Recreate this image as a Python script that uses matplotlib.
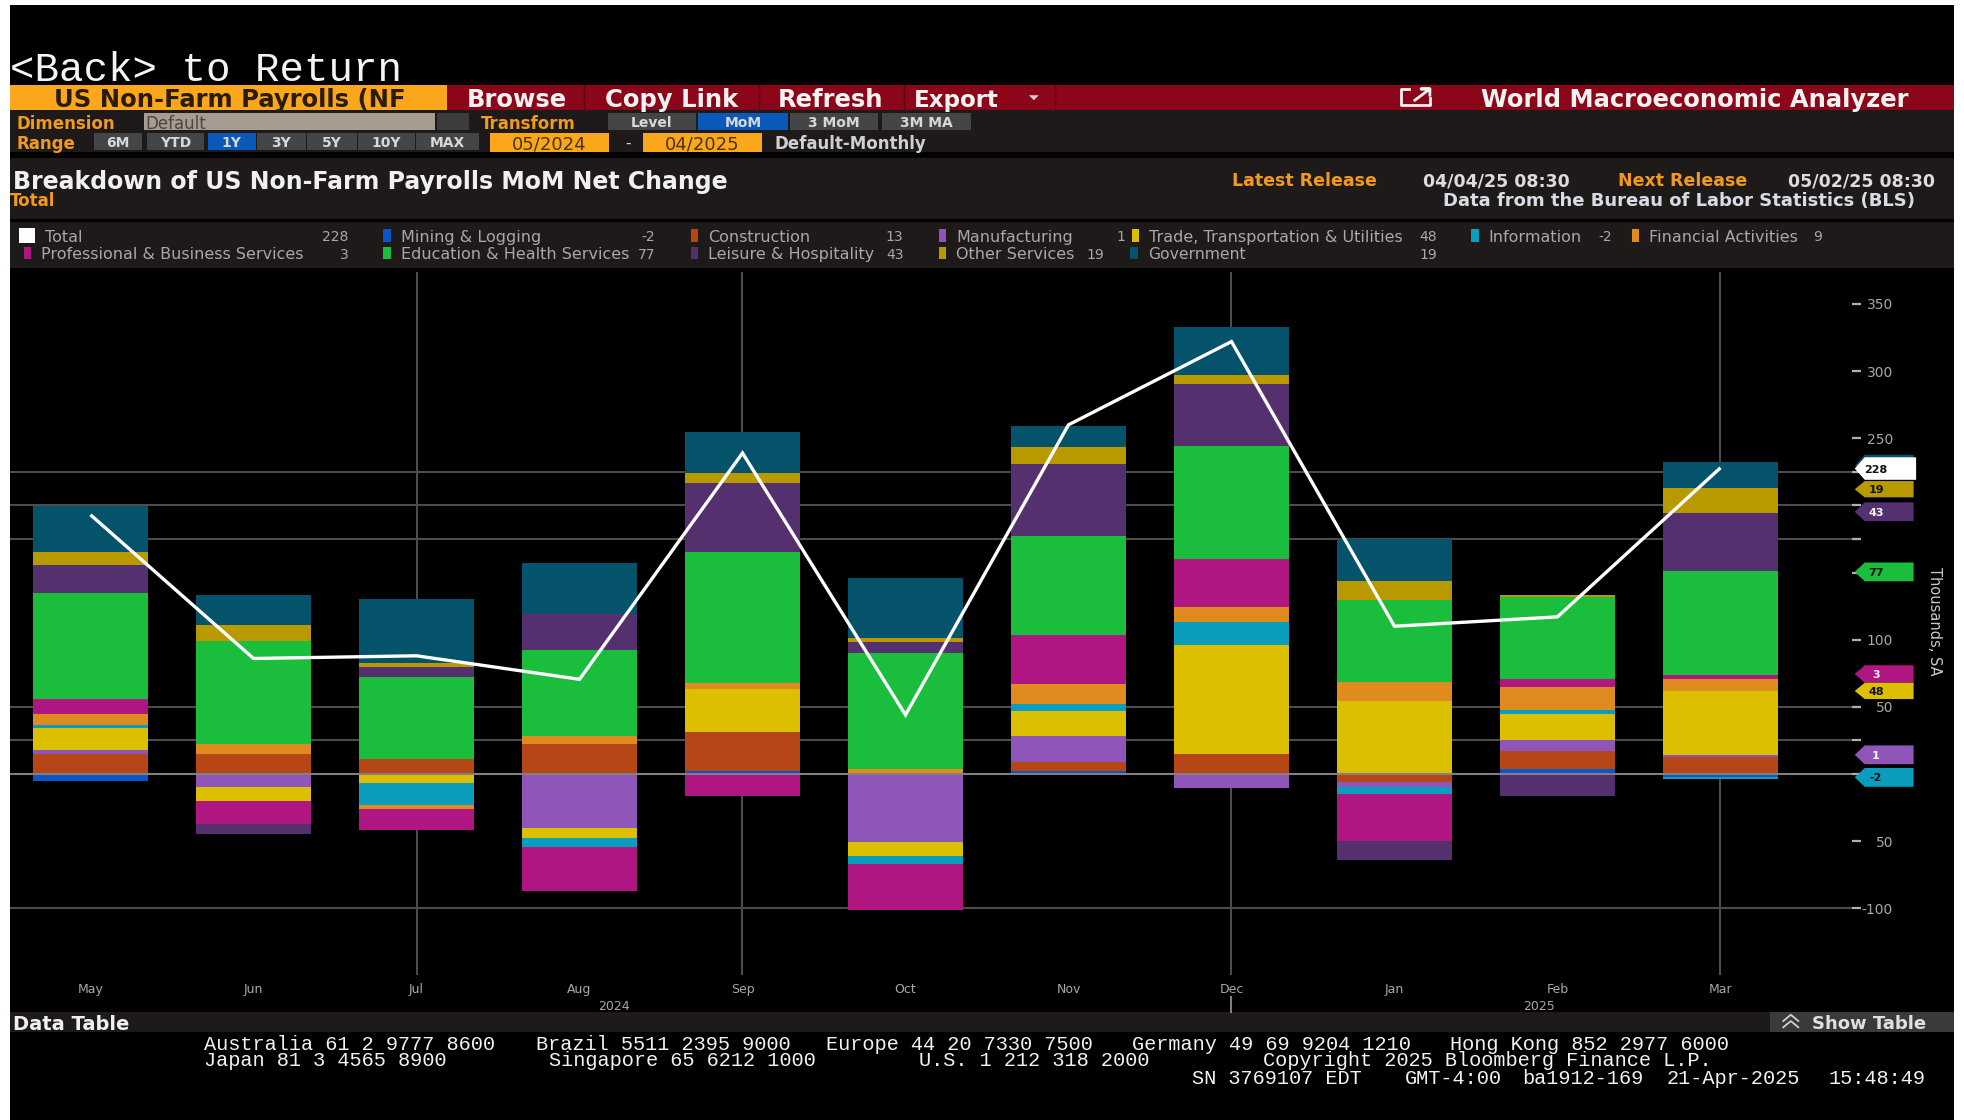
import matplotlib
matplotlib.use("Agg")
import matplotlib.pyplot as plt
from matplotlib.patches import Rectangle, Polygon
from matplotlib.textpath import TextPath
from matplotlib.font_manager import FontProperties
import numpy as np

months = ["May", "Jun", "Jul", "Aug", "Sep", "Oct", "Nov", "Dec", "Jan", "Feb", "Mar"]
mining = [-5, 0, 0, 0, 2, 0, 2, 0, 1, 4, -2]
construction = [15, 15, 11, 22, 29, 0, 7, 15, -6, 13, 13]
manufacturing = [2.5, -10, 0, -40, 0, -51, 19, -10.5, -4, 8, 1]
trade = [17, -10, -7, -8, 32, -10, 19, 81, 53.5, 20, 48]
information = [2, 0, -16, -6.5, 0, -6, 5, 17, -5, 2.5, -2]
financial = [8, 7, -3, 6, 4.5, 4, 15, 11, 14, 17, 9]
professional = [11, -17, -16, -33, -16.5, -34.5, 36.5, 36, -35, 6, 3]
education = [79, 77, 61, 64.5, 98, 86, 74, 84, 61, 61, 77]
leisure = [21, -7.5, 8, 26.5, 51, 8.5, 53, 46.5, -14, -16.5, 43]
other = [10, 12, 2.5, 0, 7.5, 2.5, 13, 6.5, 14.5, 1.5, 19]
government = [34, 22, 48, 38, 31, 45, 15.5, 36, 31, 0, 19]
total = [193, 86, 88, 70.5, 239, 44, 260, 322, 110, 117, 228]

series_names = ["Mining & Logging", "Construction", "Manufacturing",
                "Trade, Transportation & Utilities", "Information", "Financial Activities",
                "Professional & Business Services", "Education & Health Services",
                "Leisure & Hospitality", "Other Services", "Government"]
series_colors = ["#0a55c8", "#b74616", "#8f55b8", "#dcbf00", "#0a9dbd", "#e08b20",
                 "#b01682", "#1bbd3c", "#55306e", "#b89a00", "#04536a"]
series_values = [mining, construction, manufacturing, trade, information, financial,
                 professional, education, leisure, other, government]
latest = [-2, 13, 1, 48, -2, 9, 3, 77, 43, 19, 19]
latest_total = 228

tick_vals = [-100, -50, 0, 25, 50, 100, 150, 175, 200, 225, 250, 300, 350]
tick_text = ["-100", "50", "", "", "50", "100", "", "", "", "", "250", "300", "350"]
grid_vals = [-100, 0, 25, 50, 175, 200, 225]

W, H = 1965, 1120
fig = plt.figure(figsize=(W / 100, H / 100), dpi=100, facecolor="white")

# screen furniture, in 1568x894 layout units
ui = fig.add_axes([0, 0, 1, 1], zorder=0)
ui.axis("off")
over = fig.add_axes([0, 0, 1, 1], zorder=5)
over.axis("off")
over.patch.set_alpha(0)
for a in (ui, over):
    a.set_xlim(0, 1568)
    a.set_ylim(894, 0)

SANS = "DejaVu Sans"
MONO = "Liberation Mono"
SC = W / 1568


def box(x0, x1, y0, y1, c, ax=ui, z=1):
    ax.add_patch(Rectangle((x0, y0), x1 - x0, y1 - y0, fc=c, ec="none", zorder=z))


def T(x0, x1, y, s, c, weight="normal", family=SANS, ax=ui, maxsize=None, center=False):
    fp = FontProperties(family=family, weight=weight, size=10)
    w = TextPath((0, 0), s, prop=fp).get_extents().width * 100 / 72
    size = 10 * (x1 - x0) * SC / w
    if maxsize:
        size = min(size, maxsize)
    ax.text((x0 + x1) / 2 if center else x0, y, s, color=c, fontsize=size, fontweight=weight,
            family=family, ha="center" if center else "left", va="center_baseline", zorder=3)


def M(x0, y, s):
    ui.text(x0, y, s, color="#f2f2f2", fontsize=14.6, family=MONO, ha="left",
            va="center_baseline", zorder=3)


box(8, 1559, 4, 894, "#000000", z=0)
PANEL = "#1f1a1a"
RED = "#8a0618"
ORANGE = "#fba71b"
AMBER = "#f09a1e"
BTN = "#434547"
BLUE = "#0a58b8"
R1 = 17.5
R2 = 12

T(8, 316, 53, "<Back> to Return", "#f4f4f4", family=MONO)

box(8, 1559, 68, 88, RED)
box(8, 357, 68, 88, ORANGE)
T(13, 353, 78, "US Non-Farm Payrolls (NF", "#2a1c08", weight="bold", maxsize=R1, center=True)
for xb in [466, 606, 721, 842]:
    ui.plot([xb, xb], [68, 88], color="#5a0410", lw=1, zorder=2)
T(368, 456, 78, "Browse", "#f2f2f2", weight="bold", maxsize=R1, center=True)
T(477, 595, 78, "Copy Link", "#f2f2f2", weight="bold", maxsize=R1, center=True)
T(616, 709, 78, "Refresh", "#f2f2f2", weight="bold", maxsize=R1, center=True)
T(730, 796, 78, "Export", "#f2f2f2", weight="bold", maxsize=R1, center=True)
ui.add_patch(Polygon([[821, 76], [829, 76], [825, 80]], fc="#d0d0d0", ec="none", zorder=3))
ui.plot([1124, 1118, 1118, 1141, 1141], [71, 71, 84, 84, 78], color="#f2f2f2", lw=2, zorder=3)
ui.plot([1129, 1141, 1134, 1141, 1141], [80, 71, 71, 71, 76], color="#f2f2f2", lw=2, zorder=3)
T(1163, 1541, 78, "World Macroeconomic Analyzer", "#f2f2f2", weight="bold", maxsize=R1, center=True)

box(8, 1559, 88, 121, PANEL)
T(13, 107, 97, "Dimension", AMBER, weight="bold", maxsize=R2)
box(115, 347, 90, 104, "#a89c90")
T(116, 190, 97, "Default", "#4a4640", maxsize=R2)
box(349, 374, 90, 104, "#3c3c3c")
T(384, 476, 97, "Transform", AMBER, weight="bold", maxsize=R2)
for x0, x1, s, c in [(485, 555, "Level", BTN), (557, 629, "MoM", BLUE),
                     (630, 701, "3 MoM", BTN), (704, 775, "3M MA", BTN)]:
    box(x0, x1, 90, 104, c)
    over.text((x0 + x1) / 2, 97, s, color="#d8d8d8", fontsize=10, fontweight="bold",
              ha="center", va="center_baseline", family=SANS)
T(13, 66, 113, "Range", AMBER, weight="bold", maxsize=R2)
for x0, x1, s, c in [(75, 113, "6M", BTN), (117, 163, "YTD", BTN), (166, 204, "1Y", BLUE),
                     (205, 244, "3Y", BTN), (245, 285, "5Y", BTN), (286, 331, "10Y", BTN),
                     (332, 382, "MAX", BTN)]:
    box(x0, x1, 106, 120, c)
    over.text((x0 + x1) / 2, 113, s, color="#d8d8d8", fontsize=10, fontweight="bold",
              ha="center", va="center_baseline", family=SANS)
box(391, 486, 106, 121, ORANGE)
over.text(438.5, 113.5, "05/2024", color="#4a3208", fontsize=13, ha="center", va="center_baseline", family=SANS)
over.text(501, 113, "-", color="#d8d8d8", fontsize=11, ha="center", va="center_baseline")
box(513, 608, 106, 121, ORANGE)
over.text(560.5, 113.5, "04/2025", color="#4a3208", fontsize=13, ha="center", va="center_baseline", family=SANS)
T(618, 765, 113, "Default-Monthly", "#d0d0d0", weight="bold", maxsize=R2)

box(8, 1559, 126, 175, PANEL)
T(10, 657, 143, "Breakdown of US Non-Farm Payrolls MoM Net Change", "#f0f0f0", weight="bold", maxsize=17)
T(8, 54, 159, "Total", AMBER, weight="bold", maxsize=R2)
T(973, 1108, 143, "Latest Release", AMBER, weight="bold", maxsize=12.5, center=True)
T(1119, 1269, 143, "04/04/25 08:30", "#dcdcdc", weight="bold", maxsize=12.5, center=True)
T(1281, 1405, 143, "Next Release", AMBER, weight="bold", maxsize=12.5, center=True)
T(1412, 1559, 143, "05/02/25 08:30", "#dcdcdc", weight="bold", maxsize=12.5, center=True)
T(1121, 1558, 159, "Data from the Bureau of Labor Statistics (BLS)", "#d8dce4", weight="bold", maxsize=13, center=True)

box(8, 1559, 177, 214, PANEL)
LG = "#a8a8a8"
legend_pos = {
    "Total": (36, 66, 278, 188), "Mining & Logging": (320, 429, 523, 188),
    "Construction": (565, 645, 721, 188), "Manufacturing": (763, 854, 898, 188),
    "Trade, Transportation & Utilities": (917, 1123, 1147, 188),
    "Information": (1188, 1265, 1286, 188), "Financial Activities": (1316, 1439, 1454, 188),
    "Professional & Business Services": (33, 248, 278, 202),
    "Education & Health Services": (320, 500, 523, 202),
    "Leisure & Hospitality": (565, 697, 721, 202), "Other Services": (763, 858, 881, 202),
    "Government": (916, 993, 1147, 202),
}
for name, val, col in [("Total", latest_total, "#ffffff")] + list(zip(series_names, latest, series_colors)):
    x0, x1, vx, y = legend_pos[name]
    if name == "Total":
        box(15, 28, y - 6, y + 6, col, z=3)
    else:
        box(x0 - 14, x0 - 8, y - 5, y + 5, col, z=3)
    T(x0, x1, y, name, LG, maxsize=11.5)
    ui.text(vx, y, str(val), color=LG, fontsize=10, ha="right", va="center_baseline", zorder=3)

# chart
ax = fig.add_axes([10 / W, 1 - 975 / H, 1842 / W, 703 / H], zorder=2)
ax.set_facecolor("#000000")
x = np.arange(len(months))
pos = np.zeros(len(months))
neg = np.zeros(len(months))
for vals, col, name in zip(series_values, series_colors, series_names):
    v = np.array(vals, dtype=float)
    base = np.where(v >= 0, pos, neg)
    ax.bar(x, v, 0.705, bottom=base, color=col, label=name, zorder=3, linewidth=0)
    pos += np.where(v >= 0, v, 0)
    neg += np.where(v < 0, v, 0)
ax.plot(x, total, color="#ffffff", lw=2.4, zorder=6, solid_joinstyle="miter", solid_capstyle="butt")
for g in grid_vals:
    if g == 0:
        ax.axhline(g, color="#808080", lw=1.5, zorder=5)
    else:
        ax.axhline(g, color="#4c4c4c", lw=1.5, zorder=1)
for i in [2, 4, 7, 10]:
    ax.axvline(i, color="#4c4c4c", lw=1.5, zorder=1)
ax.set_xlim(-0.494, 10.807)
ax.set_ylim(-149.7, 373.8)
for s in ax.spines.values():
    s.set_visible(False)
ax.set_xticks(x, months)
ax.tick_params(axis="x", length=0, pad=6, labelsize=9, labelcolor="#a8a8a8")
ax.yaxis.tick_right()
ax.set_yticks(tick_vals, tick_text)
ax.tick_params(axis="y", length=6.5, width=1.6, color="#b0b0b0", pad=23, labelsize=10,
               labelcolor="#a8a8a8")
for lab in ax.get_yticklabels():
    lab.set_ha("right")

# year row
ui.text(490, 802, "2024", color="#a8a8a8", fontsize=9, ha="center", va="center_baseline", zorder=3)
ui.text(1228, 802, "2025", color="#a8a8a8", fontsize=9, ha="center", va="center_baseline", zorder=3)
ui.plot([982, 982], [796, 808], color="#808080", lw=1.5, zorder=3)
over.text(1544, 496, "Thousands, SA", color="#c8c8c8", fontsize=10.5, rotation=270,
          ha="center", va="center")

# last-value tags on the axis
tag_rows = [("Government", 363, 381), ("Other Services", 384, 397), ("Leisure & Hospitality", 401, 416),
            ("Education & Health Services", 449, 464), ("Professional & Business Services", 531, 545),
            ("Trade, Transportation & Utilities", 545, 558), ("Manufacturing", 595, 610),
            ("Information", 613, 628)]
dark_text = {"Other Services", "Education & Health Services", "Trade, Transportation & Utilities", "Information"}


def tag(y0, y1, col, s, tc, xr=1527):
    ym = (y0 + y1) / 2
    over.add_patch(Polygon([[1480, ym], [1488, y0], [xr, y0], [xr, y1], [1488, y1]], fc=col, ec="none", zorder=2))
    over.text(1497, ym, s, color=tc, fontsize=8, fontweight="bold", ha="center", va="center_baseline", zorder=3)


for name, y0, y1 in tag_rows:
    if name == "Government":
        over.add_patch(Polygon([[1480, 372], [1488, 363], [1527, 363], [1527, 372]],
                               fc=series_colors[-1], ec="none", zorder=2))
        continue
    i = series_names.index(name)
    tag(y0, y1, series_colors[i], str(latest[i]), "#101010" if name in dark_text else "#f4f4f4")
tag(365, 383, "#ffffff", str(latest_total), "#101010", xr=1529)

# bottom band and footer
box(8, 1559, 808, 824, PANEL)
T(10, 122, 816, "Data Table", "#f0f0f0", weight="bold", maxsize=14)
box(1412, 1559, 808, 824, "#3a3a3a")
T(1446, 1551, 816, "Show Table", "#e0e0e0", weight="bold", maxsize=13)
for dy in (0, 5):
    ui.plot([1423, 1429, 1435], [815 + dy, 810 + dy, 815 + dy], color="#d0d0d0", lw=1.3, zorder=3)
for x0, s in [(163, "Australia 61 2 9777 8600"), (428, "Brazil 5511 2395 9000"),
              (659, "Europe 44 20 7330 7500"), (903, "Germany 49 69 9204 1210"),
              (1157, "Hong Kong 852 2977 6000")]:
    M(x0, 832, s)
for x0, s in [(163, "Japan 81 3 4565 8900"), (438, "Singapore 65 6212 1000"),
              (733, "U.S. 1 212 318 2000"), (1008, "Copyright 2025 Bloomberg Finance L.P.")]:
    M(x0, 845, s)
for x0, s in [(951, "SN 3769107 EDT"), (1121, "GMT-4:00"), (1215, "ba1912-169"),
              (1330, "21-Apr-2025"), (1459, "15:48:49")]:
    M(x0, 859, s)

for a in (ui, over):
    a.set_xlim(0, 1568)
    a.set_ylim(894, 0)
fig.savefig("out.png", dpi=100, facecolor="white")
